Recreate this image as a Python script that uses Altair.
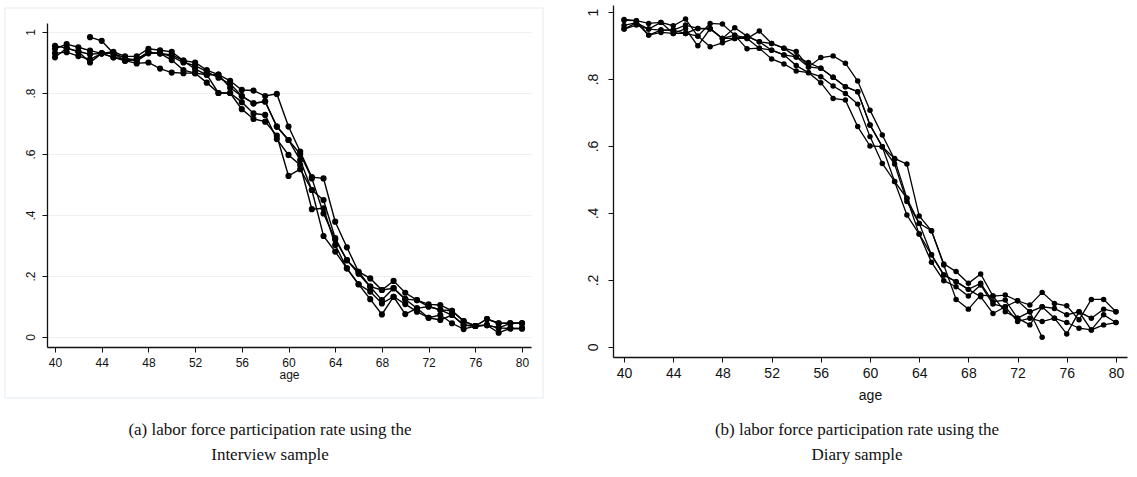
import altair as alt
import pandas as pd

ages = list(range(40, 81))

# ---------------- Panel (a): Interview sample ----------------
left_s1 = [.945, .96, .95, .939, .93, .935, .92, .92, .945, .94,
           .935, .906, .9, .875, .86, .84, .81, .808, .79, .797,
           .69, .608, .524, .52, .378, .294, .214, .192, .154, .184,
           .145, .121, .107, .105, .086, .052, .036, .059, .045, .045, .045]
left_s2 = [.955, .947, .936, .927, .93, .917, .91, .91, .934, .93,
           .925, .906, .878, .86, .86, .817, .79, .766, .772, .69,
           .646, .58, .482, .449, .324, .252, .207, .165, .121, .16,
           .124, .094, .1, .089, .072, .039, .036, .039, .03, .028, .028]
left_s3 = [.93, .934, .921, .91, .93, .93, .906, .897, .9, .88,
           .867, .865, .865, .834, .8, .8, .77, .733, .728, .649,
           .597, .564, .419, .422, .302, .225, .173, .149, .11, .132,
           .108, .083, .063, .072, .045, .026, .036, .039, .014, .028, .028]
left_s4 = [.917, .947, .936, .9, .93, .917, .906, .91, .934, .93,
           .908, .875, .865, .86, .8, .8, .747, .715, .706, .66,
           .528, .55, .482, .331, .28, .225, .173, .124, .074, .132,
           .075, .094, .063, .056, .072, .039, .036, .039, .03, .045, .045]
left_s5 = [None, None, None, .983, .971, .93, .915, .905, .93, .93,
           .92, .9, .89, .87, .85, .83, .79, .766, .772, .69,
           .646, .6, .52, .405, .32, .252, .214, .165, .154, .16,
           .124, .121, .1, .089, .086, .052, .036, .059, .045, .045, .045]

# ---------------- Panel (b): Diary sample ----------------
right_s1 = [.978, .974, .966, .969, .959, .979, .928, .966, .964, .931,
            .921, .943, .906, .892, .882, .836, .864, .869, .847, .794,
            .707, .633, .56, .444, .369, .347, .248, .225, .19, .218,
            .152, .155, .138, .125, .163, .13, .123, .081, .142, .142, .105]
right_s2 = [.949, .961, .949, .946, .946, .961, .951, .95, .921, .953,
            .928, .911, .886, .872, .866, .849, .832, .805, .777, .762,
            .663, .598, .546, .434, .369, .275, .215, .195, .172, .19,
            .135, .14, .086, .105, .12, .115, .096, .105, .086, .113, .105]
right_s3 = [.975, .974, .931, .939, .936, .936, .928, .896, .908, .921,
            .921, .892, .886, .872, .84, .819, .807, .779, .757, .725,
            .628, .548, .494, .394, .337, .253, .198, .18, .152, .185,
            .128, .12, .076, .086, .076, .086, .073, .056, .051, .096, .073]
right_s4 = [.949, .968, .949, .969, .936, .95, .899, .95, .921, .931,
            .89, .892, .86, .845, .824, .819, .789, .742, .737, .658,
            .6, .598, .563, .546, .391, .347, .245, .142, .113, .155,
            .152, .105, .086, .066, .12, .086, .039, .105, .051, .066, .073]
right_s5 = [.96, .968, .931, .946, .946, .936, .951, .95, .921, .921,
            .928, .911, .906, .892, .866, .836, .832, .805, .777, .762,
            .663, .598, .494, .444, .337, .275, .215, .195, .172, .15,
            .1, .12, .138, .105, .029, None, None, None, None, None, None]

x_ticks = [40, 44, 48, 52, 56, 60, 64, 68, 72, 76, 80]
y_ticks = [0, 0.2, 0.4, 0.6, 0.8, 1]
caption_a = ["(a) labor force participation rate using the", "Interview sample"]
caption_b = ["(b) labor force participation rate using the", "Diary sample"]
x_title = "age"


def to_long(series_list):
    rows = []
    for i, s in enumerate(series_list):
        for a, v in zip(ages, s):
            if v is not None:
                rows.append({"age": a, "rate": v, "series": f"s{i+1}"})
    return pd.DataFrame(rows)


left_df = to_long([left_s1, left_s2, left_s3, left_s4, left_s5])
right_df = to_long([right_s1, right_s2, right_s3, right_s4, right_s5])

W, H = 1137, 477
LABEL_FONT = "Liberation Sans"
Y_LABEL_EXPR = "replace(format(datum.value, '.1~f'), '0.', '.')"


def panel(df, x_dom, x_rng, y_dom, y_rng, x_off, y_off, grid, fs, msize, lw,
          lab_pad_x, title_pad, lab_pad_y):
    xs = alt.Scale(domain=x_dom, range=x_rng, nice=False, zero=False)
    ys = alt.Scale(domain=y_dom, range=y_rng, nice=False, zero=False)
    xa = alt.Axis(values=x_ticks, title=x_title, orient="bottom", offset=x_off,
                  grid=False, tickSize=5, tickColor="#111", domainColor="#111",
                  domainWidth=1.3, labelFont=LABEL_FONT, labelFontSize=fs,
                  labelColor="#111", labelPadding=lab_pad_x, titleFont=LABEL_FONT,
                  titleFontSize=fs, titleFontWeight="normal", titleColor="#111",
                  titlePadding=title_pad, labelFlush=False)
    ya = alt.Axis(values=y_ticks, title=None, orient="left", offset=y_off,
                  grid=grid, gridColor="#eef1f3", gridWidth=1, tickSize=5,
                  tickColor="#111", domainColor="#111", domainWidth=1.3,
                  labelFont=LABEL_FONT, labelFontSize=fs, labelColor="#111",
                  labelAngle=270, labelAlign="center", labelBaseline="bottom",
                  labelPadding=lab_pad_y, labelExpr=Y_LABEL_EXPR, labelFlush=False)
    base = alt.Chart(df)
    lines = base.mark_line(color="black", strokeWidth=lw).encode(
        x=alt.X("age:Q", scale=xs, axis=xa),
        y=alt.Y("rate:Q", scale=ys, axis=ya),
        detail="series:N",
    )
    pts = base.mark_circle(color="black", opacity=1, size=msize).encode(
        x=alt.X("age:Q", scale=xs, axis=xa),
        y=alt.Y("rate:Q", scale=ys, axis=ya),
    )
    return alt.layer(lines, pts)


left = panel(left_df, [39.315, 80.77], [47, 531], [-0.0328, 1.0295], [347, 23],
             x_off=347 - H, y_off=-47, grid=True, fs=12, msize=38, lw=1.4,
             lab_pad_x=5, title_pad=1, lab_pad_y=5)
right = panel(right_df, [39.1, 80.9], [613, 1127], [-0.0299, 1.0209], [357, 5],
              x_off=357 - H, y_off=-613, grid=False, fs=14, msize=30, lw=1.3,
              lab_pad_x=4, title_pad=8, lab_pad_y=8)

one = alt.Data(values=[{}])
frame = alt.Chart(one).mark_rect(fill=None, stroke="#e4ebef", strokeWidth=1).encode(
    x=alt.value(5), x2=alt.value(543), y=alt.value(8), y2=alt.value(398)
)


def caption(lines, cx):
    return alt.Chart(one).mark_text(
        text=lines, font="Liberation Serif", fontSize=17, color="#111",
        align="center", baseline="middle", lineHeight=25,
    ).encode(x=alt.value(cx), y=alt.value(430))


chart = alt.layer(
    frame, left, right, caption(caption_a, 270), caption(caption_b, 857)
).resolve_scale(x="independent", y="independent").properties(
    width=W, height=H, autosize=alt.AutoSizeParams(type="none"), padding=0,
    background="white",
).configure_view(stroke=None)

chart.save("out.html", embed_options={"renderer": "svg", "actions": False})
